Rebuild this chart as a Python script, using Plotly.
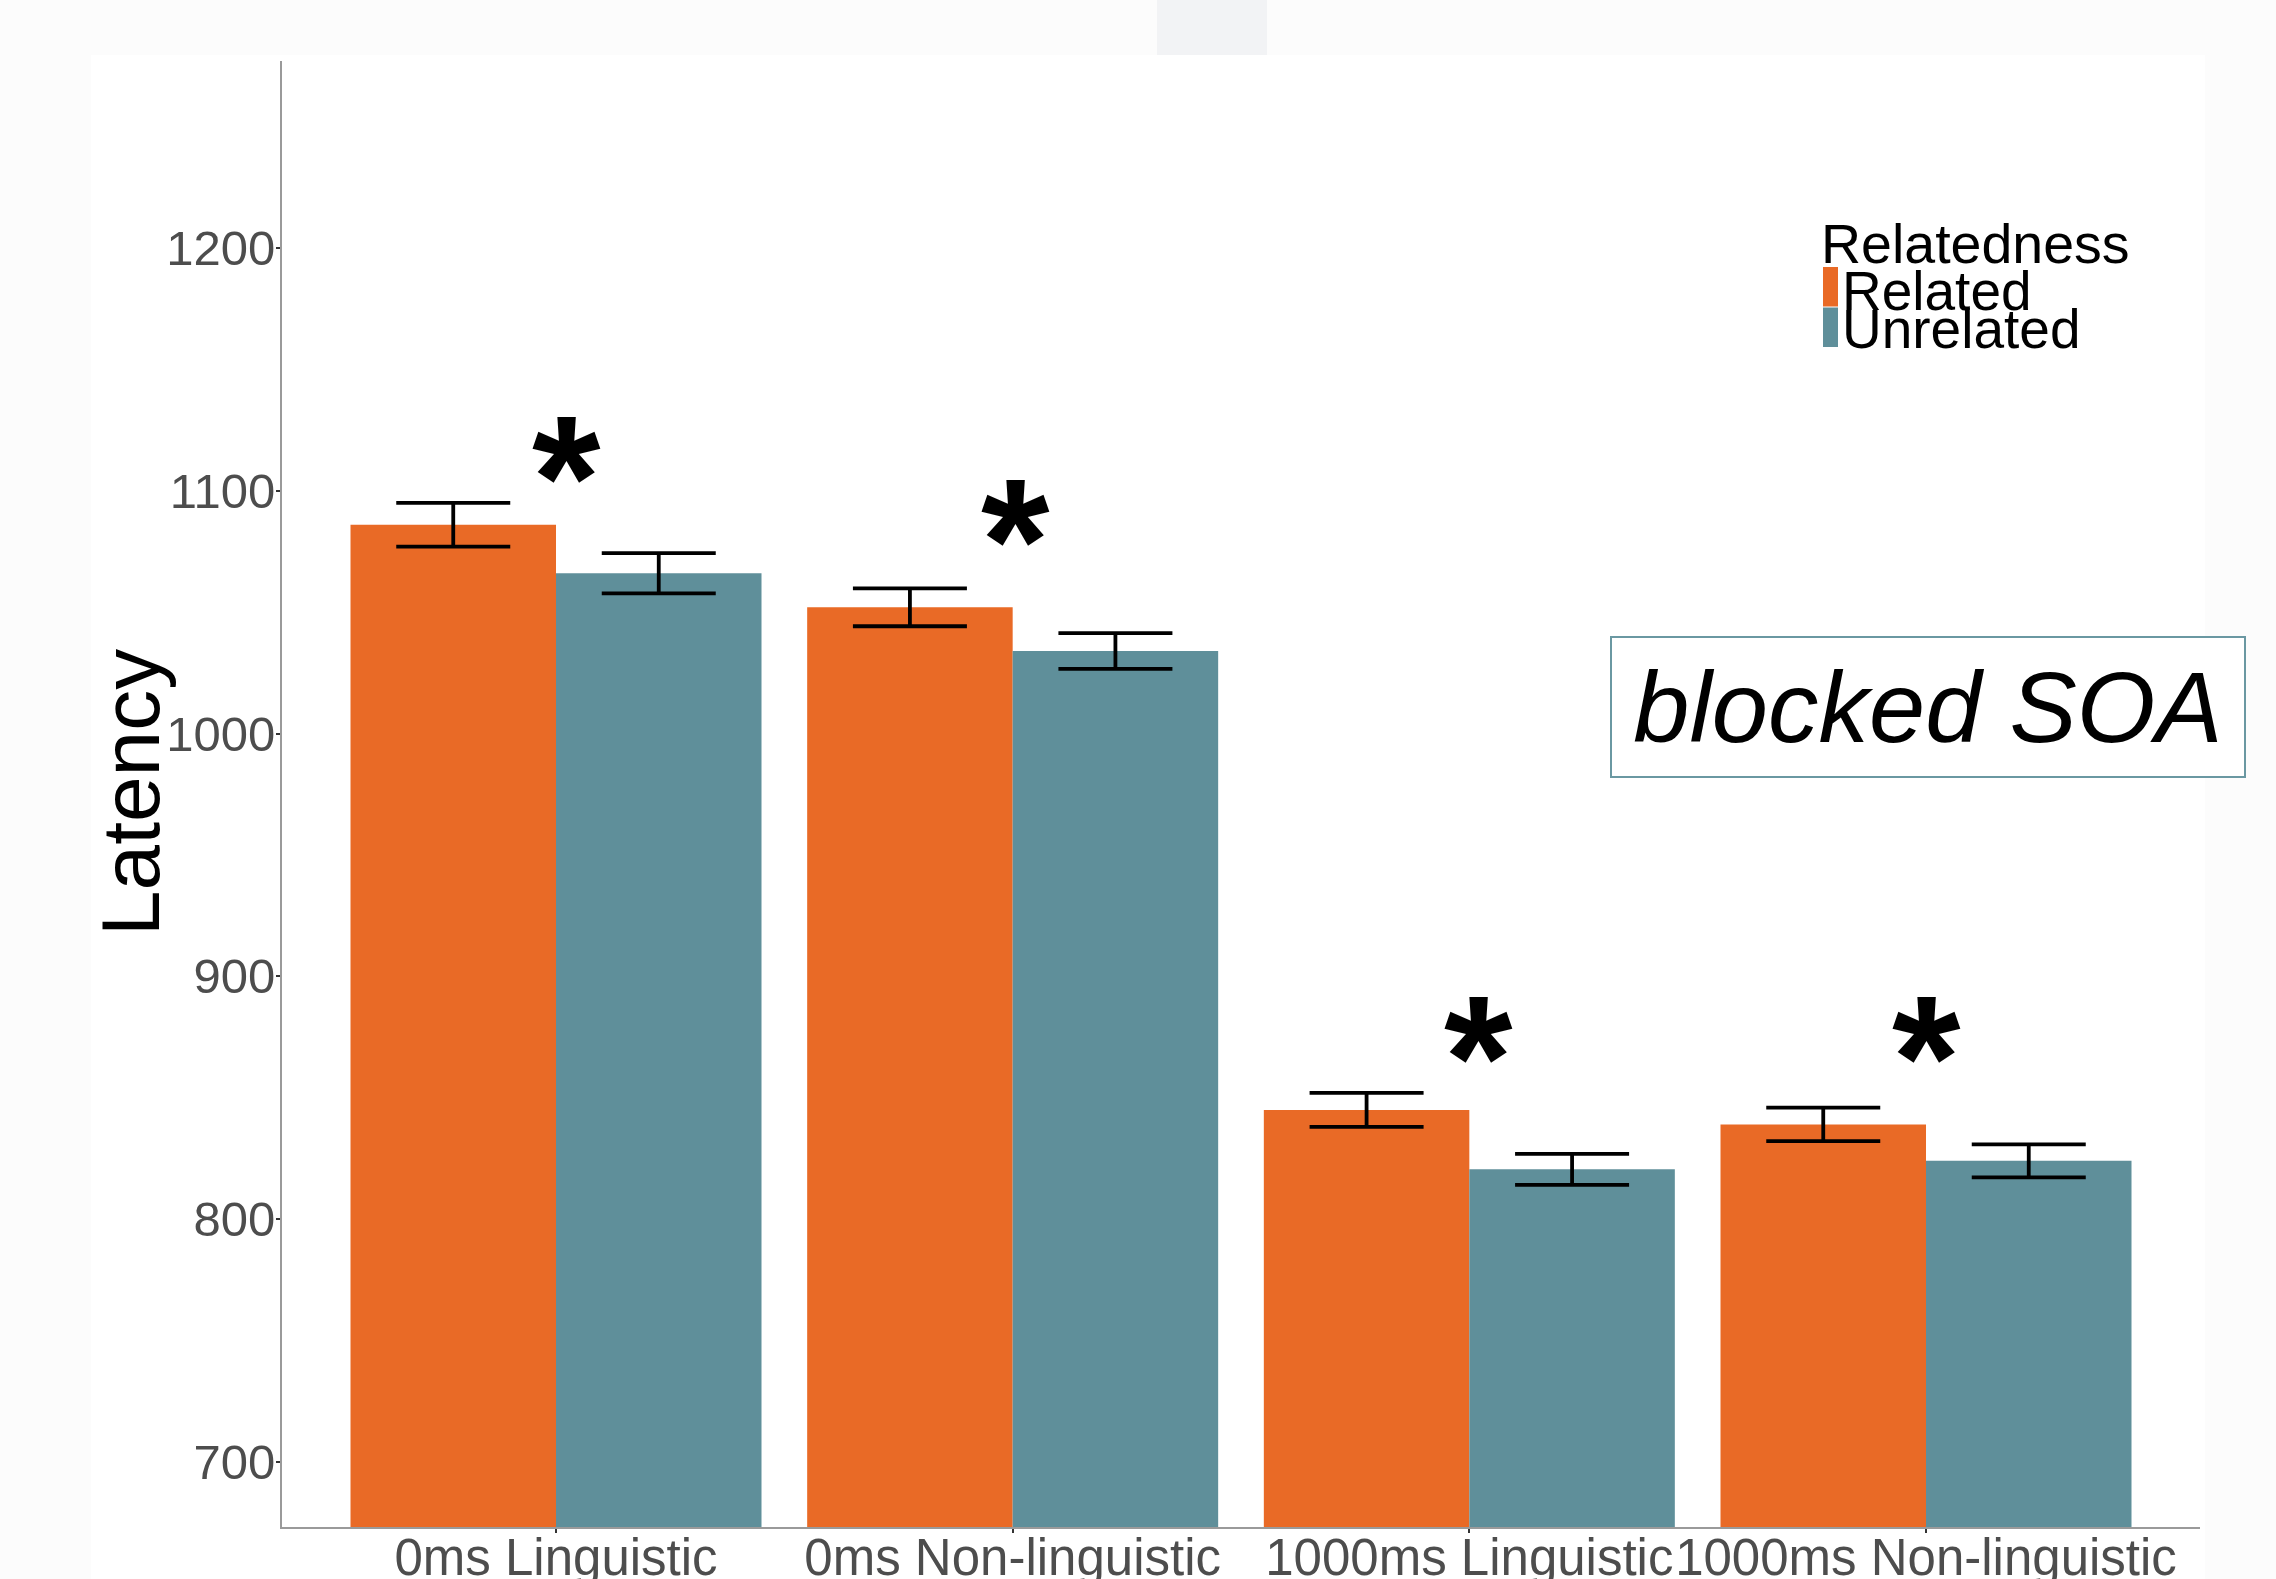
import plotly.graph_objects as go

# Condition labels and group means / standard errors (ms)
conditions = ["0ms Linguistic", "0ms Non-linguistic", "1000ms Linguistic", "1000ms Non-linguistic"]
related_mean = [1086, 1052, 845, 839]
related_se = [9.0, 7.8, 7.0, 6.9]
unrelated_mean = [1066, 1034, 820.5, 824]
unrelated_se = [8.3, 7.4, 6.4, 6.8]

# Significance markers: x offset from category centre, y of glyph centre
star_dx = [0.023, 0.007, 0.02, 0.0]
star_y = [1118, 1092, 879, 879]

y_ticks = [700, 800, 900, 1000, 1100, 1200]

ORANGE = "#E96A26"
TEAL = "#5F8F9A"
FONT = "Liberation Sans, Arial, sans-serif"

W, H = 2276, 1579
L, R, T, B = 282, 76, 61, 52
PW, PH = W - L - R, H - T - B


def px(xp):
    return (xp - L) / PW


def py(yp):
    return 1 - (yp - T) / PH


fig = go.Figure()
fig.add_bar(
    name="Related", x=conditions, y=related_mean,
    marker=dict(color=ORANGE, line=dict(width=0)),
    error_y=dict(type="data", array=related_se, color="black", thickness=3.8, width=57),
)
fig.add_bar(
    name="Unrelated", x=conditions, y=unrelated_mean,
    marker=dict(color=TEAL, line=dict(width=0)),
    error_y=dict(type="data", array=unrelated_se, color="black", thickness=3.8, width=57),
)

axis_common = dict(
    showline=True, linecolor="#9a9a9a", linewidth=2,
    ticks="outside", ticklen=4, tickwidth=1.5, tickcolor="#333333",
    showgrid=False, zeroline=False, automargin=False,
)

annotations = []
for i, (dx, sy) in enumerate(zip(star_dx, star_y)):
    annotations.append(dict(
        x=i + dx, y=sy, xref="x", yref="y", text="<b>*</b>", showarrow=False,
        font=dict(family=FONT, size=176, color="black"),
        xanchor="center", yanchor="middle", yshift=-30,
    ))

# Panel label
annotations.append(dict(
    x=3, y=1011, xref="x", yref="y", text="<i>blocked SOA</i>", showarrow=False,
    font=dict(family=FONT, size=101, color="black"),
    width=632, height=138, borderpad=0, borderwidth=2, bordercolor="#6a98a2",
    bgcolor="white", xanchor="center", yanchor="middle", xshift=2,
))

# Y axis title
annotations.append(dict(
    x=px(130), y=py(793), xref="paper", yref="paper", text="Latency",
    textangle=-90, showarrow=False, xanchor="center", yanchor="middle",
    font=dict(family=FONT, size=82, color="black"),
))

# Legend
annotations += [
    dict(x=px(1819), y=py(211), xref="paper", yref="paper", text="Relatedness",
         showarrow=False, xanchor="left", yanchor="top",
         font=dict(family=FONT, size=55.5, color="black")),
    dict(x=px(1840), y=py(257.5), xref="paper", yref="paper", text="Related",
         showarrow=False, xanchor="left", yanchor="top",
         font=dict(family=FONT, size=55, color="black")),
    dict(x=px(1840), y=py(295.5), xref="paper", yref="paper", text="Unrelated",
         showarrow=False, xanchor="left", yanchor="top",
         font=dict(family=FONT, size=55, color="black")),
]

shapes = [
    dict(type="rect", xref="paper", yref="paper", layer="below", line=dict(width=0),
         fillcolor="white", x0=px(91), x1=px(2205), y0=py(1579), y1=py(55)),
    dict(type="rect", xref="paper", yref="paper", layer="below", line=dict(width=0),
         fillcolor="#f2f3f5", x0=px(1157), x1=px(1267), y0=py(55), y1=py(0)),
    dict(type="rect", xref="paper", yref="paper", line=dict(width=0),
         fillcolor=ORANGE, x0=px(1823), x1=px(1838), y0=py(306.5), y1=py(267)),
    dict(type="rect", xref="paper", yref="paper", line=dict(width=0),
         fillcolor=TEAL, x0=px(1823), x1=px(1838), y0=py(347), y1=py(307.5)),
]

fig.update_layout(
    width=W, height=H,
    margin=dict(l=L, r=R, t=T, b=B, pad=0, autoexpand=False),
    paper_bgcolor="#fcfcfc", plot_bgcolor="white",
    barmode="group", bargap=0.1, bargroupgap=0,
    showlegend=False,
    xaxis=dict(type="category", range=[-0.6, 3.6], tickangle=0, ticklabelstandoff=-19,
               tickfont=dict(family=FONT, size=51, color="#4d4d4d"), **axis_common),
    yaxis=dict(range=[673.2, 1277], tickvals=y_ticks, ticklabelstandoff=-9,
               tickfont=dict(family=FONT, size=49, color="#4d4d4d"), **axis_common),
    annotations=annotations, shapes=shapes,
)

fig.write_html("out.html")
